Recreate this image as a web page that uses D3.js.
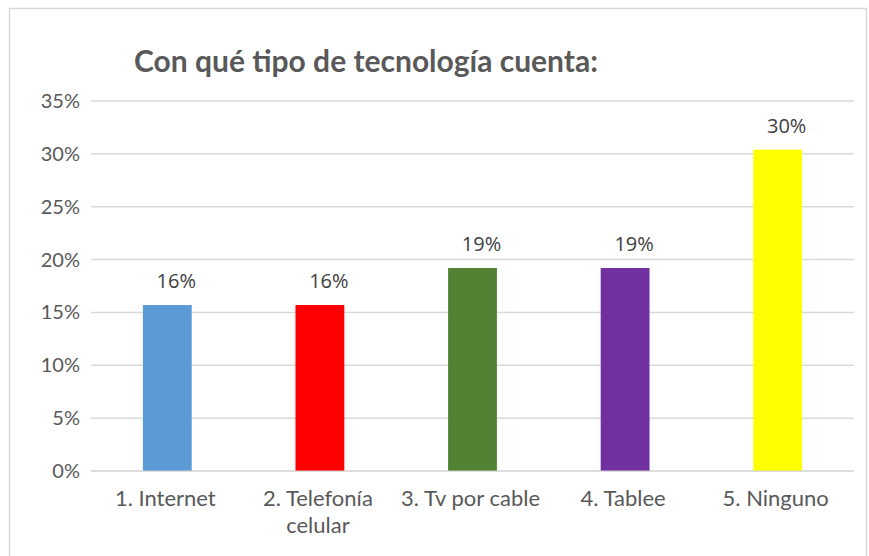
<!DOCTYPE html>
<html>
<head>
<meta charset="utf-8">
<script src="https://cdn.jsdelivr.net/npm/d3@7"></script>
<style>
  body { margin: 0; background: #fff; }
  svg { display: block; }
</style>
</head>
<body>
<div id="chart"></div>
<script>
// data
var categories = ["1. Internet", "2. Telefonía celular", "3. Tv por cable", "4. Tablee", "5. Ninguno"];
var values = [0.157, 0.157, 0.192, 0.192, 0.304];
var colors = ["#5B9BD5", "#FF0000", "#548235", "#7030A0", "#FFFF00"];
var yTicks = [0, 0.05, 0.10, 0.15, 0.20, 0.25, 0.30, 0.35];
var title = "Con qué tipo de tecnología cuenta:";

var WIDTH = 869, HEIGHT = 556;
var axisFont = "Lato, 'Open Sans', sans-serif";

const svg = d3.select("#chart").append("svg")
  .attr("width", WIDTH)
  .attr("height", HEIGHT);

// chart area border
svg.append("rect")
  .attr("x", 9.5).attr("y", 8.5)
  .attr("width", 857).attr("height", 560)
  .attr("fill", "none")
  .attr("stroke", "#d9d9d9")
  .attr("stroke-width", 1.5);

let x = d3.scaleBand()
  .domain(categories)
  .range([91, 854])
  .paddingInner(0.68)
  .paddingOuter(0.34);

let y = d3.scaleLinear()
  .domain([0, 0.35])
  .range([471, 101]);

// gridlines
svg.append("g")
  .selectAll("line")
  .data(yTicks)
  .join("line")
    .attr("x1", 91)
    .attr("x2", 854)
    .attr("y1", d => y(d))
    .attr("y2", d => y(d))
    .attr("stroke", "#d9d9d9")
    .attr("stroke-width", 1.5);

// y tick labels
svg.append("g")
  .selectAll("text")
  .data(yTicks)
  .join("text")
    .attr("x", 80)
    .attr("y", d => y(d) + 7)
    .attr("text-anchor", "end")
    .style("font-family", axisFont)
    .style("font-size", "20px")
    .attr("fill", "#595959")
    .text(d => d3.format(".0%")(d));

// bars
svg.append("g")
  .selectAll("rect")
  .data(values)
  .join("rect")
    .attr("x", (d, i) => x(categories[i]))
    .attr("y", d => y(d))
    .attr("width", x.bandwidth())
    .attr("height", d => y(0) - y(d))
    .attr("fill", (d, i) => colors[i]);

// axis base line over the bars, light
svg.append("line")
  .attr("x1", 91).attr("x2", 854)
  .attr("y1", y(0)).attr("y2", y(0))
  .attr("stroke", "#d9d9d9")
  .attr("stroke-width", 1.5)
  .attr("opacity", 0.6);

// value labels
svg.append("g")
  .selectAll("text")
  .data(values)
  .join("text")
    .attr("x", (d, i) => x(categories[i]) + x.bandwidth() / 2 + 9)
    .attr("y", d => y(d) - 17)
    .attr("text-anchor", "middle")
    .style("font-family", "'Open Sans', sans-serif")
    .style("font-size", "20px")
    .attr("fill", "#404040")
    .text(d => d3.format(".0%")(d));

// category labels, wrapped like the source
const catLines = {"2. Telefonía celular": ["2. Telefonía", "celular"]};
const cat = svg.append("g")
  .selectAll("g")
  .data(categories)
  .join("g")
    .attr("transform", d => `translate(${x(d) + x.bandwidth() / 2 - 2},506)`);

cat.selectAll("text")
  .data(d => catLines[d] || [d])
  .join("text")
    .attr("y", (d, i) => i * 27)
    .attr("text-anchor", "middle")
    .style("font-family", axisFont)
    .style("font-size", "22px")
    .attr("fill", "#595959")
    .text(d => d);

// title
svg.append("text")
  .attr("x", 134)
  .attr("y", 72)
  .style("font-family", axisFont)
  .style("font-size", "30px")
  .attr("font-weight", "bold")
  .attr("fill", "#595959")
  .text(title);
</script>
</body>
</html>
